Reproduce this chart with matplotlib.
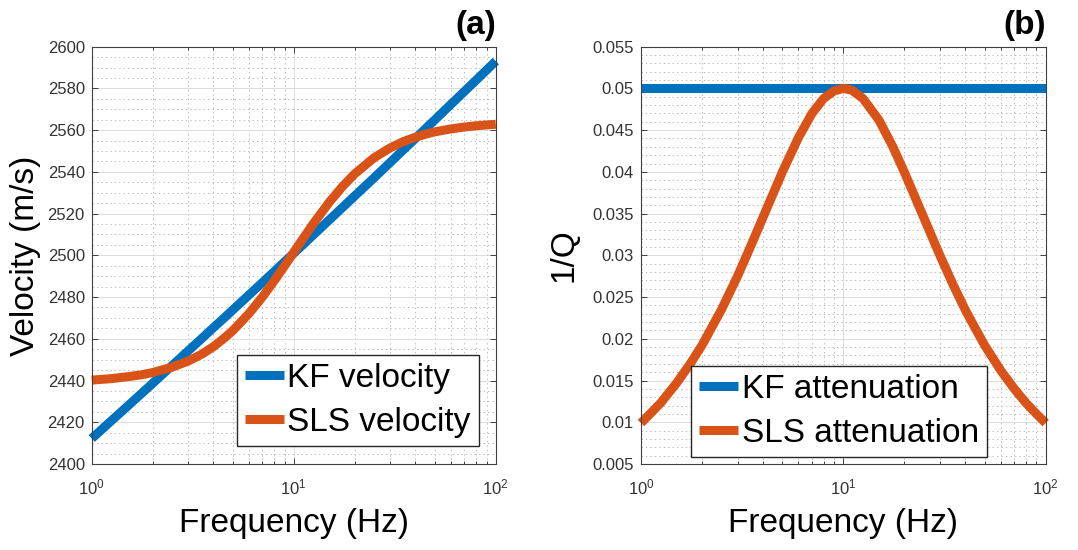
import matplotlib
matplotlib.use("Agg")
import matplotlib.pyplot as plt
from matplotlib.ticker import FixedLocator, FixedFormatter, MultipleLocator, FuncFormatter, NullFormatter

plt.rcParams['font.family'] = ['Liberation Sans', 'DejaVu Sans']
plt.rcParams['mathtext.default'] = 'regular'
plt.rcParams['lines.scale_dashes'] = False

# ---------------- data ----------------
freq = [1, 1.25, 1.5, 1.75, 2, 2.5, 3, 3.5, 4, 4.5, 5, 6, 7, 8, 9, 10, 11, 12.5,
        15, 17.5, 20, 25, 30, 35, 40, 45, 50, 60, 70, 80, 90, 100]

kf_velocity = [2412.2, 2420.7, 2427.6, 2433.5, 2438.6, 2447.2, 2454.2, 2460.1,
               2465.3, 2469.8, 2473.9, 2481.0, 2487.0, 2492.2, 2496.9, 2501.0,
               2504.7, 2509.8, 2517.0, 2523.1, 2528.4, 2537.2, 2544.5, 2550.7,
               2556.0, 2560.8, 2565.0, 2572.4, 2578.6, 2584.0, 2588.8, 2593.1]

sls_velocity = [2440.2, 2440.9, 2441.8, 2442.7, 2443.8, 2446.4, 2449.3, 2452.6,
                2456.2, 2460.1, 2464.0, 2472.1, 2480.1, 2487.8, 2494.9, 2501.5,
                2507.4, 2515.2, 2525.5, 2533.2, 2539.0, 2546.8, 2551.5, 2554.6,
                2556.6, 2558.1, 2559.2, 2560.6, 2561.5, 2562.1, 2562.5, 2562.8]

kf_freq = [1, 100]
kf_attenuation = [0.05, 0.05]

sls_attenuation = [0.0099, 0.0123, 0.0147, 0.0170, 0.0192, 0.0235, 0.0275, 0.0312,
                   0.0345, 0.0374, 0.0400, 0.0441, 0.0470, 0.0488, 0.0497, 0.0500,
                   0.0498, 0.0488, 0.0462, 0.0431, 0.0400, 0.0345, 0.0300, 0.0264,
                   0.0235, 0.0212, 0.0192, 0.0162, 0.0140, 0.0123, 0.0110, 0.0099]

xtick_vals = [1, 10, 100]
xtick_labels = ['$10^{0}$', '$10^{1}$', '$10^{2}$']

BLUE = '#0072BD'
ORANGE = '#D95319'
AXC = '#404040'

fig = plt.figure(figsize=(10.78, 5.50), dpi=100)
ax1 = fig.add_axes([0.0851, 0.1564, 0.3748, 0.7587])
ax2 = fig.add_axes([0.5946, 0.1564, 0.3754, 0.7587])


def style(ax, ymin, ymax, ymaj, ymin_step, fmt):
    ax.set_xscale('log')
    ax.set_xlim(1, 100)
    ax.set_ylim(ymin, ymax)
    ax.xaxis.set_major_locator(FixedLocator(xtick_vals))
    ax.xaxis.set_major_formatter(FixedFormatter(xtick_labels))
    ax.xaxis.set_minor_locator(FixedLocator([m * d for d in (1, 10) for m in range(2, 10)]))
    ax.xaxis.set_minor_formatter(NullFormatter())
    ax.yaxis.set_major_locator(MultipleLocator(ymaj))
    ax.yaxis.set_minor_locator(MultipleLocator(ymin_step))
    ax.yaxis.set_major_formatter(FuncFormatter(fmt))
    ax.tick_params(axis='both', which='both', direction='in', top=True, right=True,
                   colors=AXC, labelcolor='#333333', labelsize=12, width=0.7)
    ax.tick_params(axis='both', which='major', length=4)
    ax.tick_params(axis='x', which='minor', length=2.5)
    ax.tick_params(axis='y', which='minor', length=0)
    ax.tick_params(axis='x', which='major', pad=10)
    ax.tick_params(axis='y', which='major', pad=5)
    for s in ax.spines.values():
        s.set_color(AXC)
        s.set_linewidth(0.8)
    ax.set_axisbelow(True)
    ax.grid(True, which='major', color='#dcdcdc', linewidth=0.7, linestyle='-')
    ax.grid(True, which='minor', color='#bcbcbc', linewidth=0.7, linestyle=(0, (1, 2.2)))


style(ax1, 2400, 2600, 20, 5, lambda v, p: f'{v:.0f}')
style(ax2, 0.005, 0.055, 0.005, 0.001, lambda v, p: f'{round(v, 4):g}')

lw = 6.5
ax1.plot(freq, kf_velocity, color=BLUE, lw=lw, solid_capstyle='butt', clip_on=False, label='KF velocity')
ax1.plot(freq, sls_velocity, color=ORANGE, lw=lw, solid_capstyle='butt', clip_on=False, label='SLS velocity')
ax2.plot(kf_freq, kf_attenuation, color=BLUE, lw=lw, solid_capstyle='butt', clip_on=False, label='KF attenuation')
ax2.plot(freq, sls_attenuation, color=ORANGE, lw=lw, solid_capstyle='butt', clip_on=False, label='SLS attenuation')

ax1.set_xlabel('Frequency (Hz)', fontsize=24)
ax2.set_xlabel('Frequency (Hz)', fontsize=24)
ax1.set_ylabel('Velocity (m/s)', fontsize=24)
ax2.set_ylabel('1/Q', fontsize=24)
ax1.xaxis.set_label_coords(0.5, -0.105)
ax2.xaxis.set_label_coords(0.5, -0.105)
ax1.yaxis.set_label_coords(-0.125, 0.5)
ax2.yaxis.set_label_coords(-0.152, 0.5)

ax1.set_title('(a)', loc='right', fontsize=24, fontweight='bold', pad=9)
ax2.set_title('(b)', loc='right', fontsize=24, fontweight='bold', pad=9)

leg_kw = dict(fontsize=24, handlelength=1.17, handletextpad=0.1, borderpad=0.25,
              labelspacing=0.38, fancybox=False, framealpha=1, edgecolor='#262626',
              borderaxespad=0)
l1 = ax1.legend(loc='lower right', bbox_to_anchor=(0.959, 0.043), **leg_kw)
l2 = ax2.legend(loc='lower left', bbox_to_anchor=(0.124, 0.017), **leg_kw)
for l in (l1, l2):
    l.get_frame().set_linewidth(1.0)

fig.savefig('out.png', dpi=100)
